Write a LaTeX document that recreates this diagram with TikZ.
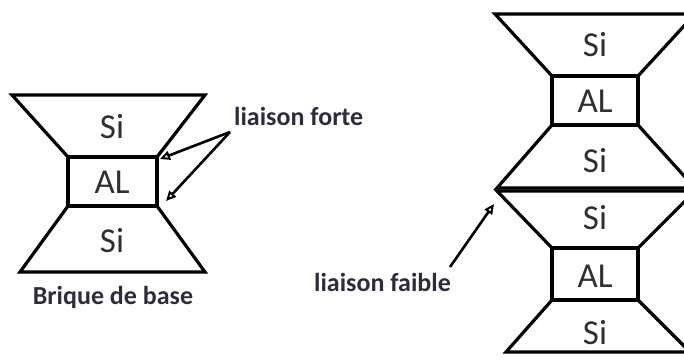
\documentclass[tikz,border=0pt]{standalone}
\usepackage{fontspec}
\setmainfont{Carlito}
\usetikzlibrary{arrows.meta}
\definecolor{txt}{HTML}{303030}
\definecolor{notec}{HTML}{2E2B3C}
\begin{document}
\begin{tikzpicture}[x=1pt,y=-1pt,
  outl/.style={line width=3.2pt,line join=miter,black},
  lbl/.style={font=\fontsize{35}{35}\selectfont,text=txt,inner sep=0pt},
  note/.style={font=\bfseries\fontsize{26}{26}\selectfont,text=notec,inner sep=0pt},
  arr/.style={line width=2.6pt,-{Triangle[open,length=10pt,width=9pt,line width=2pt]}}]
\useasboundingbox (0,0) rectangle (684,363);
\clip (0,0) rectangle (684,363);
% left brick
\draw[outl] (12,95) -- (205,95) -- (157,157) -- (68,157) -- cycle;
\draw[outl] (68,157) rectangle (157,206);
\draw[outl] (68,206) -- (157,206) -- (205,272) -- (20,272) -- cycle;
\node[lbl] (ls1) at (112,127) {Si};
\node[lbl] (lal) at (112,182) {AL};
\node[lbl] (ls2) at (112,241) {Si};
\node[note] (base) at (113,297) {Brique de base};
% right stack, brick 1
\draw[outl] (495,14) -- (695,14) -- (638,76) -- (552,76) -- cycle;
\draw[outl] (552,76) rectangle (638,125);
\draw[outl] (552,125) -- (638,125) -- (695,188) -- (497,188) -- cycle;
% brick 2
\draw[outl] (497,191) -- (695,191) -- (638,248) -- (552,248) -- cycle;
\draw[outl] (552,248) rectangle (638,300);
\draw[outl] (552,300) -- (638,300) -- (690,352) -- (506,352) -- cycle;
\node[lbl] (rs1) at (595,45) {Si};
\node[lbl] (ral1) at (595,101) {AL};
\node[lbl] (rs2) at (595,161) {Si};
\node[lbl] (rs3) at (595,218) {Si};
\node[lbl] (ral2) at (595,276) {AL};
\node[lbl] (rs4) at (595,333) {Si};
% labels and arrows
\node[note,anchor=west] (forte) at (234,116) {liaison forte};
\node[note,anchor=east] (faible) at (451,282) {liaison faible};
\coordinate (fs) at (230,132);
\coordinate (f1) at (160,159);
\coordinate (f2) at (166,201);
\coordinate (ws) at (450,267);
\coordinate (w1) at (494,204);
\draw[arr] (fs) -- (f1);
\draw[arr] (fs) -- (f2);
\draw[arr] (ws) -- (w1);
\end{tikzpicture}
\end{document}
